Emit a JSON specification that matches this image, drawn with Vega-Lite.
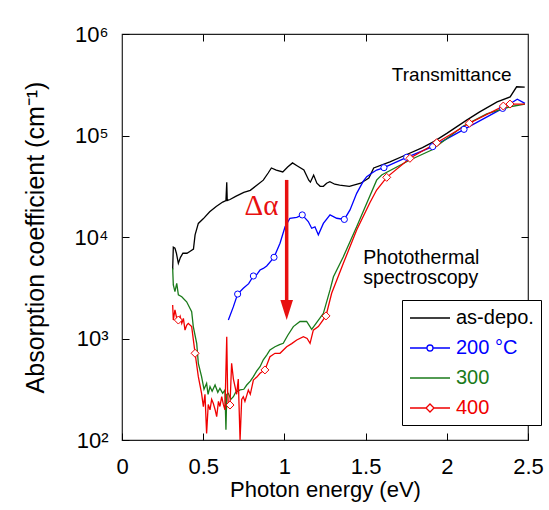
{
  "$schema": "https://vega.github.io/schema/vega-lite/v6.json",
  "width": 406,
  "height": 406,
  "autosize": {"type": "none"},
  "padding": {"left": 122, "top": 34, "right": 21, "bottom": 70},
  "background": "white",
  "datasets": {
    "curves": [
      {"sample": "as-depo.", "energy": 0.312, "alpha": 4790},
      {"sample": "as-depo.", "energy": 0.316, "alpha": 7940},
      {"sample": "as-depo.", "energy": 0.326, "alpha": 7760},
      {"sample": "as-depo.", "energy": 0.335, "alpha": 6920},
      {"sample": "as-depo.", "energy": 0.347, "alpha": 5500},
      {"sample": "as-depo.", "energy": 0.36, "alpha": 6310},
      {"sample": "as-depo.", "energy": 0.375, "alpha": 6920},
      {"sample": "as-depo.", "energy": 0.40, "alpha": 6920},
      {"sample": "as-depo.", "energy": 0.42, "alpha": 7240},
      {"sample": "as-depo.", "energy": 0.44, "alpha": 7590},
      {"sample": "as-depo.", "energy": 0.45, "alpha": 10500},
      {"sample": "as-depo.", "energy": 0.47, "alpha": 13600},
      {"sample": "as-depo.", "energy": 0.50, "alpha": 15100},
      {"sample": "as-depo.", "energy": 0.54, "alpha": 17700},
      {"sample": "as-depo.", "energy": 0.58, "alpha": 20000},
      {"sample": "as-depo.", "energy": 0.62, "alpha": 22100},
      {"sample": "as-depo.", "energy": 0.64, "alpha": 22900},
      {"sample": "as-depo.", "energy": 0.645, "alpha": 34700},
      {"sample": "as-depo.", "energy": 0.648, "alpha": 22900},
      {"sample": "as-depo.", "energy": 0.665, "alpha": 23400},
      {"sample": "as-depo.", "energy": 0.70, "alpha": 25100},
      {"sample": "as-depo.", "energy": 0.75, "alpha": 27500},
      {"sample": "as-depo.", "energy": 0.79, "alpha": 28800},
      {"sample": "as-depo.", "energy": 0.83, "alpha": 32400},
      {"sample": "as-depo.", "energy": 0.87, "alpha": 36300},
      {"sample": "as-depo.", "energy": 0.90, "alpha": 42700},
      {"sample": "as-depo.", "energy": 0.92, "alpha": 47900},
      {"sample": "as-depo.", "energy": 0.95, "alpha": 45700},
      {"sample": "as-depo.", "energy": 0.99, "alpha": 43700},
      {"sample": "as-depo.", "energy": 1.02, "alpha": 49000},
      {"sample": "as-depo.", "energy": 1.05, "alpha": 53700},
      {"sample": "as-depo.", "energy": 1.08, "alpha": 50100},
      {"sample": "as-depo.", "energy": 1.12, "alpha": 45700},
      {"sample": "as-depo.", "energy": 1.15, "alpha": 36300},
      {"sample": "as-depo.", "energy": 1.16, "alpha": 34700},
      {"sample": "as-depo.", "energy": 1.18, "alpha": 40700},
      {"sample": "as-depo.", "energy": 1.20, "alpha": 33900},
      {"sample": "as-depo.", "energy": 1.22, "alpha": 31600},
      {"sample": "as-depo.", "energy": 1.24, "alpha": 31600},
      {"sample": "as-depo.", "energy": 1.26, "alpha": 33900},
      {"sample": "as-depo.", "energy": 1.28, "alpha": 35100},
      {"sample": "as-depo.", "energy": 1.31, "alpha": 33100},
      {"sample": "as-depo.", "energy": 1.34, "alpha": 32400},
      {"sample": "as-depo.", "energy": 1.40, "alpha": 31600},
      {"sample": "as-depo.", "energy": 1.47, "alpha": 33900},
      {"sample": "as-depo.", "energy": 1.52, "alpha": 38000},
      {"sample": "as-depo.", "energy": 1.55, "alpha": 47900},
      {"sample": "as-depo.", "energy": 1.65, "alpha": 55000},
      {"sample": "as-depo.", "energy": 1.75, "alpha": 64600},
      {"sample": "as-depo.", "energy": 1.85, "alpha": 75900},
      {"sample": "as-depo.", "energy": 1.92, "alpha": 87100},
      {"sample": "as-depo.", "energy": 2.00, "alpha": 105000},
      {"sample": "as-depo.", "energy": 2.12, "alpha": 141000},
      {"sample": "as-depo.", "energy": 2.20, "alpha": 170000},
      {"sample": "as-depo.", "energy": 2.31, "alpha": 214000},
      {"sample": "as-depo.", "energy": 2.39, "alpha": 240000},
      {"sample": "as-depo.", "energy": 2.43, "alpha": 302000},
      {"sample": "as-depo.", "energy": 2.48, "alpha": 299000},

      {"sample": "200 °C", "energy": 0.655, "alpha": 1520},
      {"sample": "200 °C", "energy": 0.686, "alpha": 2060},
      {"sample": "200 °C", "energy": 0.712, "alpha": 2740},
      {"sample": "200 °C", "energy": 0.747, "alpha": 3130},
      {"sample": "200 °C", "energy": 0.78, "alpha": 3470},
      {"sample": "200 °C", "energy": 0.809, "alpha": 4130},
      {"sample": "200 °C", "energy": 0.83, "alpha": 4270},
      {"sample": "200 °C", "energy": 0.85, "alpha": 4730},
      {"sample": "200 °C", "energy": 0.87, "alpha": 4900},
      {"sample": "200 °C", "energy": 0.891, "alpha": 5180},
      {"sample": "200 °C", "energy": 0.936, "alpha": 6310},
      {"sample": "200 °C", "energy": 0.973, "alpha": 8670},
      {"sample": "200 °C", "energy": 1.004, "alpha": 12600},
      {"sample": "200 °C", "energy": 1.034, "alpha": 15300},
      {"sample": "200 °C", "energy": 1.076, "alpha": 15600},
      {"sample": "200 °C", "energy": 1.11, "alpha": 16500},
      {"sample": "200 °C", "energy": 1.147, "alpha": 14200},
      {"sample": "200 °C", "energy": 1.168, "alpha": 12200},
      {"sample": "200 °C", "energy": 1.188, "alpha": 12600},
      {"sample": "200 °C", "energy": 1.209, "alpha": 10500},
      {"sample": "200 °C", "energy": 1.24, "alpha": 13600},
      {"sample": "200 °C", "energy": 1.281, "alpha": 16500},
      {"sample": "200 °C", "energy": 1.322, "alpha": 15300},
      {"sample": "200 °C", "energy": 1.369, "alpha": 14900},
      {"sample": "200 °C", "energy": 1.404, "alpha": 18500},
      {"sample": "200 °C", "energy": 1.445, "alpha": 26900},
      {"sample": "200 °C", "energy": 1.486, "alpha": 35500},
      {"sample": "200 °C", "energy": 1.507, "alpha": 39300},
      {"sample": "200 °C", "energy": 1.537, "alpha": 42500},
      {"sample": "200 °C", "energy": 1.568, "alpha": 45700},
      {"sample": "200 °C", "energy": 1.613, "alpha": 48200},
      {"sample": "200 °C", "energy": 1.753, "alpha": 61000},
      {"sample": "200 °C", "energy": 1.913, "alpha": 77600},
      {"sample": "200 °C", "energy": 2.106, "alpha": 115000},
      {"sample": "200 °C", "energy": 2.344, "alpha": 185000},
      {"sample": "200 °C", "energy": 2.434, "alpha": 228000},
      {"sample": "200 °C", "energy": 2.481, "alpha": 207000},

      {"sample": "300", "energy": 0.312, "alpha": 4920},
      {"sample": "300", "energy": 0.316, "alpha": 3370},
      {"sample": "300", "energy": 0.326, "alpha": 2890},
      {"sample": "300", "energy": 0.337, "alpha": 3500},
      {"sample": "300", "energy": 0.347, "alpha": 2690},
      {"sample": "300", "energy": 0.368, "alpha": 2580},
      {"sample": "300", "energy": 0.398, "alpha": 2300},
      {"sample": "300", "energy": 0.429, "alpha": 1840},
      {"sample": "300", "energy": 0.439, "alpha": 1310},
      {"sample": "300", "energy": 0.46, "alpha": 897},
      {"sample": "300", "energy": 0.47, "alpha": 570},
      {"sample": "300", "energy": 0.49, "alpha": 421},
      {"sample": "300", "energy": 0.505, "alpha": 316},
      {"sample": "300", "energy": 0.521, "alpha": 362},
      {"sample": "300", "energy": 0.53, "alpha": 282},
      {"sample": "300", "energy": 0.542, "alpha": 335},
      {"sample": "300", "energy": 0.555, "alpha": 302},
      {"sample": "300", "energy": 0.573, "alpha": 348},
      {"sample": "300", "energy": 0.59, "alpha": 295},
      {"sample": "300", "energy": 0.603, "alpha": 323},
      {"sample": "300", "energy": 0.62, "alpha": 288},
      {"sample": "300", "energy": 0.634, "alpha": 311},
      {"sample": "300", "energy": 0.64, "alpha": 126},
      {"sample": "300", "energy": 0.645, "alpha": 282},
      {"sample": "300", "energy": 0.655, "alpha": 288},
      {"sample": "300", "energy": 0.67, "alpha": 251},
      {"sample": "300", "energy": 0.686, "alpha": 267},
      {"sample": "300", "energy": 0.70, "alpha": 295},
      {"sample": "300", "energy": 0.727, "alpha": 311},
      {"sample": "300", "energy": 0.75, "alpha": 316},
      {"sample": "300", "energy": 0.768, "alpha": 348},
      {"sample": "300", "energy": 0.79, "alpha": 380},
      {"sample": "300", "energy": 0.809, "alpha": 421},
      {"sample": "300", "energy": 0.83, "alpha": 479},
      {"sample": "300", "energy": 0.85, "alpha": 527},
      {"sample": "300", "energy": 0.87, "alpha": 617},
      {"sample": "300", "energy": 0.891, "alpha": 687},
      {"sample": "300", "energy": 0.911, "alpha": 771},
      {"sample": "300", "energy": 0.942, "alpha": 830},
      {"sample": "300", "energy": 0.97, "alpha": 871},
      {"sample": "300", "energy": 0.993, "alpha": 897},
      {"sample": "300", "energy": 1.02, "alpha": 1070},
      {"sample": "300", "energy": 1.055, "alpha": 1310},
      {"sample": "300", "energy": 1.096, "alpha": 1470},
      {"sample": "300", "energy": 1.137, "alpha": 1470},
      {"sample": "300", "energy": 1.168, "alpha": 1230},
      {"sample": "300", "energy": 1.195, "alpha": 1410},
      {"sample": "300", "energy": 1.24, "alpha": 1770},
      {"sample": "300", "energy": 1.281, "alpha": 3010},
      {"sample": "300", "energy": 1.302, "alpha": 4060},
      {"sample": "300", "energy": 1.363, "alpha": 6400},
      {"sample": "300", "energy": 1.445, "alpha": 12600},
      {"sample": "300", "energy": 1.507, "alpha": 21500},
      {"sample": "300", "energy": 1.568, "alpha": 36300},
      {"sample": "300", "energy": 1.599, "alpha": 40800},
      {"sample": "300", "energy": 1.773, "alpha": 57400},
      {"sample": "300", "energy": 1.907, "alpha": 71900},
      {"sample": "300", "energy": 2.102, "alpha": 124000},
      {"sample": "300", "energy": 2.246, "alpha": 163000},
      {"sample": "300", "energy": 2.389, "alpha": 192000},
      {"sample": "300", "energy": 2.481, "alpha": 204000},

      {"sample": "400", "energy": 0.312, "alpha": 2140},
      {"sample": "400", "energy": 0.316, "alpha": 1520},
      {"sample": "400", "energy": 0.326, "alpha": 1910},
      {"sample": "400", "energy": 0.337, "alpha": 1580},
      {"sample": "400", "energy": 0.347, "alpha": 1520},
      {"sample": "400", "energy": 0.358, "alpha": 1660},
      {"sample": "400", "energy": 0.368, "alpha": 1410},
      {"sample": "400", "energy": 0.378, "alpha": 1580},
      {"sample": "400", "energy": 0.388, "alpha": 1210},
      {"sample": "400", "energy": 0.398, "alpha": 1350},
      {"sample": "400", "energy": 0.408, "alpha": 1410},
      {"sample": "400", "energy": 0.429, "alpha": 1310},
      {"sample": "400", "energy": 0.45, "alpha": 715},
      {"sample": "400", "energy": 0.47, "alpha": 421},
      {"sample": "400", "energy": 0.49, "alpha": 288},
      {"sample": "400", "energy": 0.501, "alpha": 213},
      {"sample": "400", "energy": 0.511, "alpha": 282},
      {"sample": "400", "energy": 0.521, "alpha": 116},
      {"sample": "400", "energy": 0.531, "alpha": 224},
      {"sample": "400", "energy": 0.542, "alpha": 198},
      {"sample": "400", "energy": 0.552, "alpha": 251},
      {"sample": "400", "energy": 0.562, "alpha": 230},
      {"sample": "400", "energy": 0.573, "alpha": 200},
      {"sample": "400", "energy": 0.583, "alpha": 170},
      {"sample": "400", "energy": 0.594, "alpha": 240},
      {"sample": "400", "energy": 0.603, "alpha": 214},
      {"sample": "400", "energy": 0.614, "alpha": 267},
      {"sample": "400", "energy": 0.624, "alpha": 224},
      {"sample": "400", "energy": 0.634, "alpha": 198},
      {"sample": "400", "energy": 0.645, "alpha": 1040},
      {"sample": "400", "energy": 0.65, "alpha": 316},
      {"sample": "400", "energy": 0.655, "alpha": 213},
      {"sample": "400", "energy": 0.665, "alpha": 221},
      {"sample": "400", "energy": 0.675, "alpha": 570},
      {"sample": "400", "energy": 0.686, "alpha": 398},
      {"sample": "400", "energy": 0.696, "alpha": 335},
      {"sample": "400", "energy": 0.706, "alpha": 282},
      {"sample": "400", "energy": 0.716, "alpha": 398},
      {"sample": "400", "energy": 0.727, "alpha": 100},
      {"sample": "400", "energy": 0.737, "alpha": 251},
      {"sample": "400", "energy": 0.747, "alpha": 267},
      {"sample": "400", "energy": 0.757, "alpha": 240},
      {"sample": "400", "energy": 0.778, "alpha": 311},
      {"sample": "400", "energy": 0.79, "alpha": 282},
      {"sample": "400", "energy": 0.809, "alpha": 390},
      {"sample": "400", "energy": 0.83, "alpha": 417},
      {"sample": "400", "energy": 0.85, "alpha": 454},
      {"sample": "400", "energy": 0.88, "alpha": 490},
      {"sample": "400", "energy": 0.911, "alpha": 662},
      {"sample": "400", "energy": 0.942, "alpha": 715},
      {"sample": "400", "energy": 0.973, "alpha": 715},
      {"sample": "400", "energy": 1.014, "alpha": 830},
      {"sample": "400", "energy": 1.045, "alpha": 891},
      {"sample": "400", "energy": 1.076, "alpha": 966},
      {"sample": "400", "energy": 1.117, "alpha": 1040},
      {"sample": "400", "energy": 1.14, "alpha": 1000},
      {"sample": "400", "energy": 1.158, "alpha": 897},
      {"sample": "400", "energy": 1.178, "alpha": 1210},
      {"sample": "400", "energy": 1.209, "alpha": 1310},
      {"sample": "400", "energy": 1.256, "alpha": 1670},
      {"sample": "400", "energy": 1.291, "alpha": 2790},
      {"sample": "400", "energy": 1.363, "alpha": 5510},
      {"sample": "400", "energy": 1.445, "alpha": 11700},
      {"sample": "400", "energy": 1.527, "alpha": 21900},
      {"sample": "400", "energy": 1.568, "alpha": 29000},
      {"sample": "400", "energy": 1.63, "alpha": 38700},
      {"sample": "400", "energy": 1.773, "alpha": 59600},
      {"sample": "400", "energy": 1.938, "alpha": 84900},
      {"sample": "400", "energy": 2.139, "alpha": 132000},
      {"sample": "400", "energy": 2.348, "alpha": 195000},
      {"sample": "400", "energy": 2.389, "alpha": 204000},
      {"sample": "400", "energy": 2.481, "alpha": 204000}
    ],
    "markers": [
      {"sample": "200 °C", "energy": 0.712, "alpha": 2740},
      {"sample": "200 °C", "energy": 0.809, "alpha": 4130},
      {"sample": "200 °C", "energy": 0.936, "alpha": 6310},
      {"sample": "200 °C", "energy": 1.11, "alpha": 16500},
      {"sample": "200 °C", "energy": 1.369, "alpha": 14900},
      {"sample": "200 °C", "energy": 1.613, "alpha": 48200},
      {"sample": "200 °C", "energy": 1.753, "alpha": 61000},
      {"sample": "200 °C", "energy": 1.913, "alpha": 77600},
      {"sample": "200 °C", "energy": 2.106, "alpha": 115000},
      {"sample": "200 °C", "energy": 2.344, "alpha": 185000},
      {"sample": "400", "energy": 0.347, "alpha": 1520},
      {"sample": "400", "energy": 0.45, "alpha": 715},
      {"sample": "400", "energy": 0.665, "alpha": 221},
      {"sample": "400", "energy": 0.88, "alpha": 490},
      {"sample": "400", "energy": 1.256, "alpha": 1670},
      {"sample": "400", "energy": 1.63, "alpha": 38700},
      {"sample": "400", "energy": 1.773, "alpha": 59600},
      {"sample": "400", "energy": 1.938, "alpha": 84900},
      {"sample": "400", "energy": 2.139, "alpha": 132000},
      {"sample": "400", "energy": 2.348, "alpha": 195000},
      {"sample": "400", "energy": 2.389, "alpha": 204000}
    ]
  },
  "layer": [
    {
      "data": {"name": "curves"},
      "mark": {"type": "line", "strokeWidth": 1.3, "clip": true},
      "encoding": {
        "x": {
          "field": "energy", "type": "quantitative",
          "scale": {"domain": [0, 2.5], "nice": false, "zero": false},
          "axis": {
            "orient": "bottom", "offset": -7, "tickSize": 7, "domain": false, "grid": false,
            "values": [0, 0.5, 1, 1.5, 2, 2.5], "format": "~g",
            "labelFontSize": 22, "labelPadding": 16, "labelFlush": false, "labelOverlap": false,
            "title": "Photon energy (eV)", "titleFontSize": 22, "titlePadding": 2
          }
        },
        "y": {
          "field": "alpha", "type": "quantitative",
          "scale": {"type": "log", "domain": [100, 1000000], "nice": false},
          "axis": {
            "orient": "left", "offset": -7, "tickSize": 7, "domain": false, "grid": false,
            "values": [100, 1000, 10000, 100000, 1000000],
            "labelExpr": "'10' + (datum.value >= 999999 ? '⁶' : datum.value >= 99999 ? '⁵' : datum.value >= 9999 ? '⁴' : datum.value >= 999 ? '³' : '²')",
            "labelFontSize": 22, "labelPadding": 14, "labelFlush": false, "labelOverlap": false,
            "title": "Absorption coefficient (cm⁻¹)", "titleFontSize": 25, "titlePadding": 26
          }
        },
        "color": {
          "field": "sample", "type": "nominal",
          "scale": {"domain": ["as-depo.", "200 °C", "300", "400"], "range": ["#000000", "#0000ff", "#1a7a1a", "#f00000"]},
          "legend": {
            "title": null, "orient": "none", "legendX": 280, "legendY": 266, "direction": "vertical",
            "strokeColor": "#000000", "fillColor": "white", "padding": 7,
            "symbolType": "stroke", "symbolSize": 400, "symbolStrokeWidth": 1.3,
            "labelFontSize": 20, "labelOffset": 25, "rowPadding": 9, "labelLimit": 300,
            "encoding": {
              "symbols": {
                "shape": {"value": {"expr": "datum.value === '200 °C' ? 'M-1,0L0.7,0M1.3,0L3,0M1.3,0A0.3,0.3 0 1,1 0.7,0A0.3,0.3 0 1,1 1.3,0' : datum.value === '400' ? 'M-1,0L0.6,0M1.4,0L3,0M1.4,0L1,-0.4L0.6,0L1,0.4Z' : 'M-1,0L3,0'"}},
                "fill": {"value": "white"}
              },
              "labels": {
                "fill": {"value": {"expr": "scale('color', datum.value)"}}
              }
            }
          }
        }
      }
    },
    {
      "data": {"name": "markers"},
      "mark": {"type": "point", "filled": true, "fill": "white", "strokeWidth": 1, "opacity": 1, "clip": true},
      "encoding": {
        "x": {"field": "energy", "type": "quantitative", "axis": null},
        "y": {"field": "alpha", "type": "quantitative", "axis": null},
        "stroke": {"field": "sample", "type": "nominal", "scale": {"domain": ["200 °C", "400"], "range": ["#0000ff", "#f00000"]}, "legend": null},
        "shape": {"field": "sample", "type": "nominal", "scale": {"domain": ["200 °C", "400"], "range": ["circle", "diamond"]}, "legend": null},
        "size": {"field": "sample", "type": "ordinal", "scale": {"domain": ["200 °C", "400"], "range": [38, 64]}, "legend": null}
      }
    },
    {
      "data": {"values": [{}]},
      "mark": {"type": "rule", "color": "#e81010", "strokeWidth": 3.5},
      "encoding": {
        "x": {"datum": 1.014, "type": "quantitative",
          "axis": {"orient": "top", "offset": -7, "tickSize": 7, "domain": false, "grid": false, "labels": false, "title": null, "values": [0.5, 1, 1.5, 2]}},
        "y": {"datum": 36500, "type": "quantitative",
          "axis": {"orient": "right", "offset": -7, "tickSize": 7, "domain": false, "grid": false, "labels": false, "title": null, "values": [1000, 10000, 100000]}},
        "y2": {"datum": 2300}
      }
    },
    {
      "data": {"values": [{}]},
      "mark": {"type": "point", "shape": "M-0.63,-1L0.63,-1L0,1Z", "size": 400, "filled": true, "color": "#e81010", "opacity": 1, "strokeWidth": 0},
      "encoding": {
        "x": {"datum": 1.014, "type": "quantitative", "axis": null},
        "y": {"datum": 1910, "type": "quantitative", "axis": null}
      }
    },
    {
      "data": {"values": [{"t": "Δα"}]},
      "mark": {"type": "text", "fontSize": 29, "align": "center", "baseline": "alphabetic", "color": "#e81010", "font": "Liberation Serif"},
      "encoding": {
        "x": {"datum": 0.859, "type": "quantitative", "axis": null},
        "y": {"datum": 16500, "type": "quantitative", "axis": null},
        "text": {"field": "t"}
      }
    },
    {
      "data": {"values": [{"t": "Transmittance"}]},
      "mark": {"type": "text", "fontSize": 19, "align": "center", "baseline": "alphabetic", "color": "black"},
      "encoding": {
        "x": {"datum": 2.03, "type": "quantitative", "axis": null},
        "y": {"datum": 344000, "type": "quantitative", "axis": null},
        "text": {"field": "t"}
      }
    },
    {
      "data": {"values": [{"t": "Photothermal"}]},
      "mark": {"type": "text", "fontSize": 19.5, "align": "left", "baseline": "alphabetic", "color": "black"},
      "encoding": {
        "x": {"datum": 1.486, "type": "quantitative", "axis": null},
        "y": {"datum": 5420, "type": "quantitative", "axis": null},
        "text": {"field": "t"}
      }
    },
    {
      "data": {"values": [{"t": "spectroscopy"}]},
      "mark": {"type": "text", "fontSize": 19.5, "align": "left", "baseline": "alphabetic", "color": "black"},
      "encoding": {
        "x": {"datum": 1.486, "type": "quantitative", "axis": null},
        "y": {"datum": 3440, "type": "quantitative", "axis": null},
        "text": {"field": "t"}
      }
    }
  ],
  "resolve": {"axis": {"x": "independent", "y": "independent"}},
  "config": {
    "font": "Liberation Sans",
    "view": {"stroke": "#222222", "strokeWidth": 1.2},
    "axis": {"labelColor": "#000000", "titleColor": "#000000", "tickColor": "#000000", "tickWidth": 1, "titleFontWeight": "normal", "labelFont": "Liberation Sans", "titleFont": "Liberation Sans"},
    "legend": {"labelFont": "Liberation Sans"},
    "text": {"font": "Liberation Sans"}
  }
}
